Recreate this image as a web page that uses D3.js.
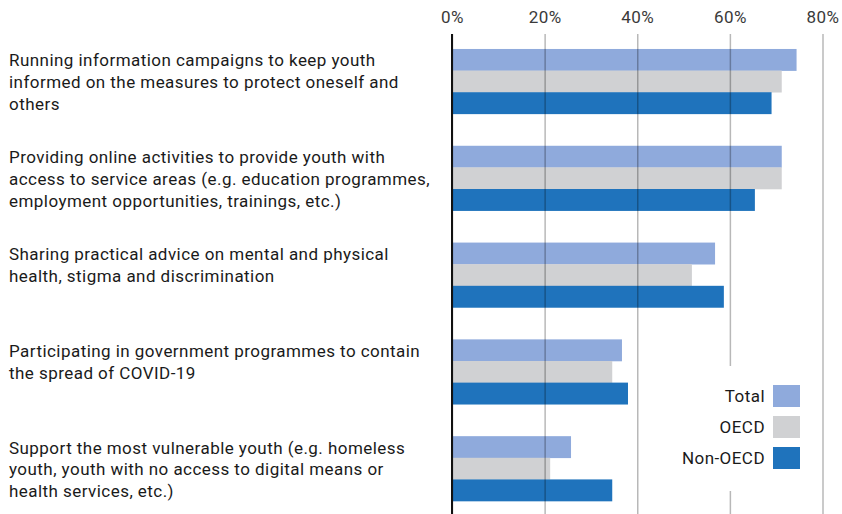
<!DOCTYPE html>
<html>
<head>
<meta charset="utf-8">
<script src="https://cdn.jsdelivr.net/npm/d3@7"></script>
<style>
  body { margin: 0; background: #fff; }
  text { font-family: Roboto, "Noto Sans", sans-serif; font-size: 17px; letter-spacing: 0.45px; }
</style>
</head>
<body>
<script>
// data
const categories = [
  ["Running information campaigns to keep youth", "informed on the measures to protect oneself and", "others"],
  ["Providing online activities to provide youth with", "access to service areas (e.g. education programmes,", "employment opportunities, trainings, etc.)"],
  ["Sharing practical advice on mental and physical", "health, stigma and discrimination"],
  ["Participating in government programmes to contain", "the spread of COVID-19"],
  ["Support the most vulnerable youth (e.g. homeless", "youth, youth with no access to digital means or", "health services, etc.)"]
]
const seriesNames = ["Total", "OECD", "Non-OECD"]
const totalValues = [74.4, 71.2, 56.8, 36.7, 25.7]
const oecdValues = [71.2, 71.2, 51.8, 34.6, 21.2]
const nonOecdValues = [69.0, 65.4, 58.7, 38.0, 34.6]
const tickValues = [0, 20, 40, 60, 80]

const colors = ["#8faadc", "#d0d1d3", "#1f73bc"]
const w = 842
const h = 514

const rows = categories.map((c, i) => ({
  lines: c,
  values: [totalValues[i], oecdValues[i], nonOecdValues[i]]
}))

const svg = d3.select('body')
  .append('svg')
  .attr('width', w)
  .attr('height', h)

// scales
const x = d3.scaleLinear().domain([0, 80]).range([452, 822.5])
const y = d3.scaleBand()
  .domain(d3.range(categories.length))
  .range([33, 517])
  .paddingInner(0.33)
  .paddingOuter(0.165)
const ySub = d3.scaleBand()
  .domain(seriesNames)
  .range([0, y.bandwidth()])

// bars
const groups = svg.selectAll('g.group')
  .data(rows)
  .enter()
  .append('g')
  .attr('class', 'group')
  .attr('transform', (d, i) => 'translate(0,' + y(i) + ')')

groups.selectAll('rect')
  .data(d => d.values.map((v, j) => ({ name: seriesNames[j], v: v, j: j })))
  .enter()
  .append('rect')
  .attr('x', x(0))
  .attr('y', d => ySub(d.name))
  .attr('width', d => x(d.v) - x(0))
  .attr('height', ySub.bandwidth() + 0.3)
  .attr('fill', d => colors[d.j])

// gridlines on top of bars
const xAxis = d3.axisTop(x)
  .tickValues(tickValues)
  .tickFormat(d => d + '%')
  .tickSize(-(h - 34))

const axisG = svg.append('g')
  .attr('transform', 'translate(0,34)')
  .call(xAxis)
axisG.attr('font-family', null).attr('font-size', null)
axisG.select('.domain').remove()
axisG.selectAll('.tick line')
  .attr('stroke', 'rgba(0,0,0,0.28)')
  .attr('stroke-width', 1.5)
axisG.selectAll('.tick text')
  .attr('fill', '#3a3a3a')
  .attr('dy', 0)
  .attr('y', -11)

// zero line
svg.append('line')
  .attr('x1', x(0))
  .attr('x2', x(0))
  .attr('y1', 34)
  .attr('y2', h)
  .attr('stroke', '#111')
  .attr('stroke-width', 2)

// category labels
groups.append('text')
  .attr('x', 9)
  .attr('y', 17.5)
  .attr('fill', '#1a1a1a')
  .selectAll('tspan')
  .data(d => d.lines)
  .enter()
  .append('tspan')
  .attr('x', 9)
  .attr('dy', (d, i) => i === 0 ? 0 : 21.7)
  .text(d => d)

// legend
svg.append('rect')
  .attr('x', 660)
  .attr('y', 366)
  .attr('width', 150)
  .attr('height', 125)
  .attr('fill', '#fff')

const legend = svg.selectAll('g.legend')
  .data(seriesNames)
  .enter()
  .append('g')
  .attr('class', 'legend')
  .attr('transform', (d, i) => 'translate(0,' + (385 + i * 31) + ')')

legend.append('rect')
  .attr('x', 773)
  .attr('y', 0)
  .attr('width', 27)
  .attr('height', 22)
  .attr('fill', (d, i) => colors[i])

legend.append('text')
  .attr('x', 765)
  .attr('y', 17)
  .attr('text-anchor', 'end')
  .attr('fill', '#1a1a1a')
  .text(d => d)
</script>
</body>
</html>
